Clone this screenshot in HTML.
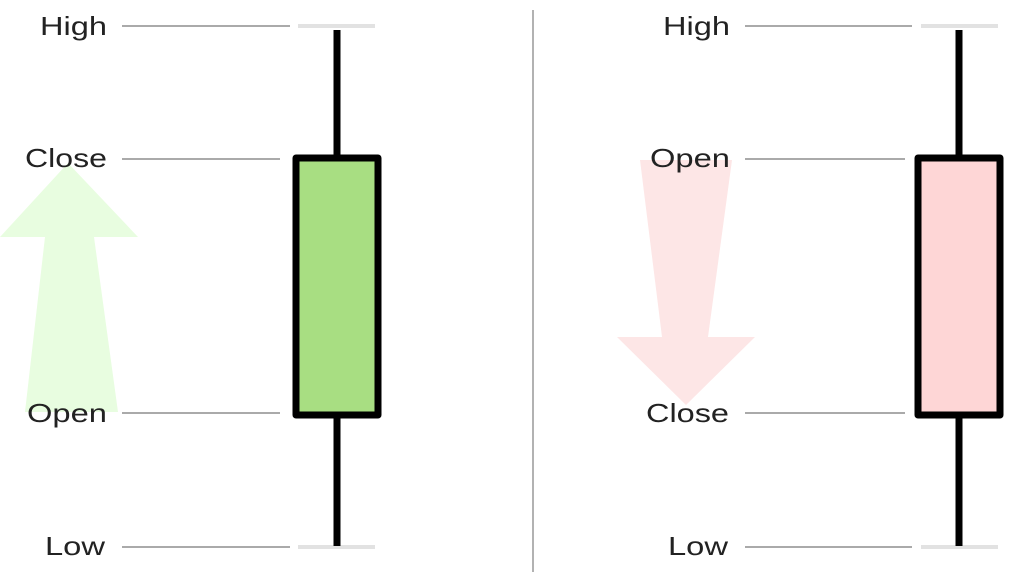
<!DOCTYPE html>
<html><head><meta charset="utf-8"><style>
html,body{margin:0;padding:0;background:#fff;width:1024px;height:576px;overflow:hidden}
text{font-family:"Liberation Sans",sans-serif;font-size:26px;fill:#222}
</style></head><body>
<svg width="1024" height="576" viewBox="0 0 1024 576" xmlns="http://www.w3.org/2000/svg">
<rect width="1024" height="576" fill="#fff"/>
<polygon points="68,163 138,237 94,237 118,412 25,412 45,237 0,237" fill="#e8fde0"/>
<polygon points="640,160 732,160 708,337 755,337 686,405 617,337 662,337" fill="#fde6e6"/>
<line x1="533" y1="10" x2="533" y2="572" stroke="#999" stroke-width="1.5"/>
<g stroke="#aaa" stroke-width="2">
<line x1="122" y1="26" x2="290" y2="26"/>
<line x1="122" y1="159" x2="280" y2="159"/>
<line x1="122" y1="413" x2="280" y2="413"/>
<line x1="122" y1="547" x2="290" y2="547"/>
<line x1="745" y1="26" x2="912" y2="26"/>
<line x1="745" y1="159" x2="905" y2="159"/>
<line x1="745" y1="413" x2="905" y2="413"/>
<line x1="745" y1="547" x2="912" y2="547"/>
</g>
<g stroke="#e2e2e2" stroke-width="4">
<line x1="298" y1="26" x2="375" y2="26"/>
<line x1="298" y1="547" x2="375" y2="547"/>
<line x1="921" y1="26" x2="998" y2="26"/>
<line x1="921" y1="547" x2="998" y2="547"/>
</g>
<line x1="337" y1="30" x2="337" y2="546" stroke="#000" stroke-width="7"/>
<rect x="296" y="158" width="82" height="257" fill="#a8de82" stroke="#000" stroke-width="7" stroke-linejoin="round"/>
<line x1="959" y1="30" x2="959" y2="546" stroke="#000" stroke-width="7"/>
<rect x="918" y="158" width="82" height="257" fill="#fed6d6" stroke="#000" stroke-width="7" stroke-linejoin="round"/>
<text x="40" y="35" textLength="67" lengthAdjust="spacingAndGlyphs">High</text>
<text x="25" y="167" textLength="82" lengthAdjust="spacingAndGlyphs">Close</text>
<text x="27" y="422" textLength="80" lengthAdjust="spacingAndGlyphs">Open</text>
<text x="45" y="555" textLength="60" lengthAdjust="spacingAndGlyphs">Low</text>
<text x="663" y="35" textLength="67" lengthAdjust="spacingAndGlyphs">High</text>
<text x="650" y="167" textLength="80" lengthAdjust="spacingAndGlyphs">Open</text>
<text x="646" y="422" textLength="83" lengthAdjust="spacingAndGlyphs">Close</text>
<text x="668" y="555" textLength="60" lengthAdjust="spacingAndGlyphs">Low</text>
</svg>
</body></html>
